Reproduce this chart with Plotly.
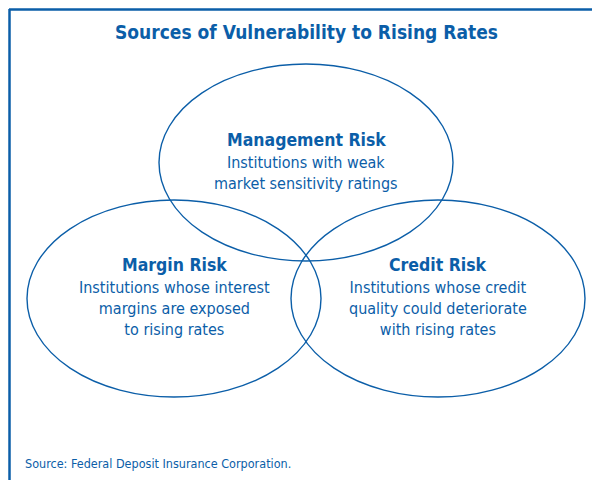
import plotly.graph_objects as go

title = 'Sources of Vulnerability to Rising Rates'
set_names = ['Management Risk', 'Margin Risk', 'Credit Risk']
set_desc = [
    'Institutions with weak<br>market sensitivity ratings',
    'Institutions whose interest<br>margins are exposed<br>to rising rates',
    'Institutions whose credit<br>quality could deteriorate<br>with rising rates',
]
source = 'Source: Federal Deposit Insurance Corporation.'

blue = '#0b5ea8'
cond = 'Liberation Sans Narrow, DejaVu Sans Condensed, Roboto Condensed, Arial Narrow, sans-serif'

# layout of the three ellipses (pixel space, y down)
centers = [(306, 162.5), (174, 298.5), (438, 298.5)]
rx, ry = 147, 98.5
label_y = [140, 265, 265]

fig = go.Figure()
fig.add_trace(go.Scatter(x=[c[0] for c in centers], y=[c[1] for c in centers],
                         mode='markers', marker=dict(opacity=0), hoverinfo='skip'))

for (cx, cy) in centers:
    fig.add_shape(type='circle', xref='x', yref='y',
                  x0=cx - rx, x1=cx + rx, y0=cy - ry, y1=cy + ry,
                  line=dict(color=blue, width=1.4))

for i, (cx, cy) in enumerate(centers):
    fig.add_annotation(x=cx, y=label_y[i], text='<b>' + set_names[i] + '</b>',
                       showarrow=False, font=dict(family=cond, size=17.5, color=blue),
                       xanchor='center', yanchor='middle')
    fig.add_annotation(x=cx, y=label_y[i] + 11, text=set_desc[i],
                       showarrow=False, font=dict(family=cond, size=16, color=blue),
                       xanchor='center', yanchor='top', align='center')

# frame
fig.add_shape(type='line', xref='x', yref='y', x0=9, x1=610, y0=9.5, y1=9.5,
              line=dict(color=blue, width=2.5))
fig.add_shape(type='line', xref='x', yref='y', x0=9.5, x1=9.5, y0=9, y1=490,
              line=dict(color=blue, width=2.5))

fig.add_annotation(x=306, y=32, text='<b>' + title + '</b>', showarrow=False,
                   font=dict(family=cond, size=19, color=blue),
                   xanchor='center', yanchor='middle')
fig.add_annotation(x=23, y=463, text=source, showarrow=False,
                   font=dict(family=cond, size=12.5, color=blue),
                   xanchor='left', yanchor='middle')

# the page body has an 8px margin, so the axes start 8px in
fig.update_layout(
    width=600, height=480,
    margin=dict(l=0, r=0, t=0, b=0),
    paper_bgcolor='white', plot_bgcolor='white',
    showlegend=False,
    xaxis=dict(range=[8, 608], visible=False, fixedrange=True),
    yaxis=dict(range=[488, 8], visible=False, fixedrange=True),
)

fig.write_html('out.html')
